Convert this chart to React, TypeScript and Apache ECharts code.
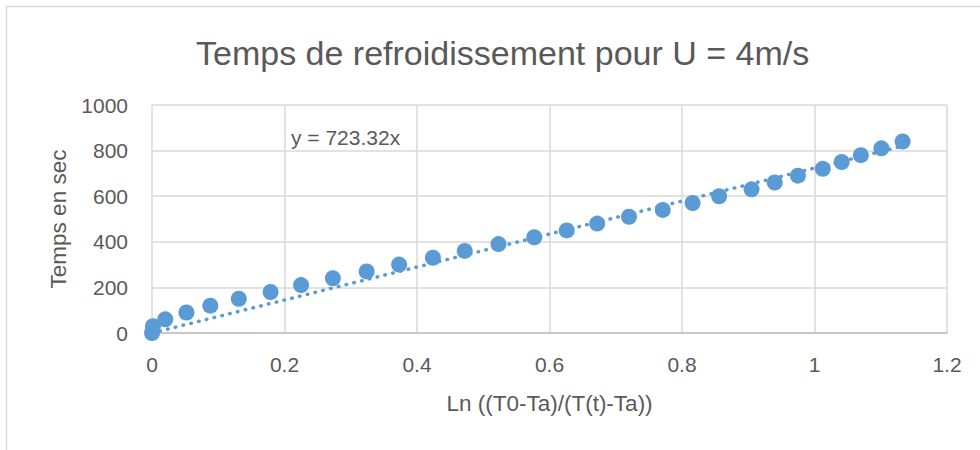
import React, { useEffect, useRef } from "react";
import * as echarts from "echarts";

const TITLE = "Temps de refroidissement pour U = 4m/s";
const X_NAME = "Ln ((T0-Ta)/(T(t)-Ta))";
const Y_NAME = "Temps en sec";
const SLOPE = 723.32;
const EQUATION = "y = 723.32x";

const lnRatio = [
  0, 0.0015, 0.02, 0.052, 0.088, 0.131, 0.179, 0.225, 0.273, 0.324, 0.373,
  0.424, 0.472, 0.523, 0.577, 0.626, 0.672, 0.72, 0.771, 0.816, 0.856, 0.905,
  0.94, 0.975, 1.0125, 1.041, 1.07, 1.101, 1.133,
];
const timeSec = [
  0, 30, 60, 90, 120, 150, 180, 210, 240, 270, 300, 330, 360, 390, 420, 450,
  480, 510, 540, 570, 600, 630, 660, 690, 720, 750, 780, 810, 840,
];

const BLUE = "#5b9bd5";
const TEXT = "#595959";
const FONT = "'Liberation Sans', Arial, sans-serif";

export default function App() {
  const ref = useRef<HTMLDivElement>(null);
  useEffect(() => {
    if (!ref.current) return;
    const chart = echarts.init(ref.current, undefined, { renderer: "svg" });
    const points = lnRatio.map((x, i) => [x, timeSec[i]]);
    const xMax = Math.max(...lnRatio);
    const trend = [
      [0, 0],
      [xMax, SLOPE * xMax],
    ];
    chart.setOption({
      animation: false,
      backgroundColor: "#ffffff",
      textStyle: { fontFamily: FONT },
      title: {
        text: TITLE,
        left: 191,
        top: 31,
        textStyle: { fontFamily: FONT, fontSize: 34, fontWeight: "normal", color: TEXT },
      },
      graphic: [
        {
          type: "rect",
          shape: { x: 6.5, y: 6.5, width: 1000, height: 500 },
          style: { fill: "none", stroke: "#d9d9d9", lineWidth: 1.5 },
          silent: true,
        },
        {
          type: "text",
          left: 291,
          top: 127,
          style: { text: EQUATION, fontFamily: FONT, fontSize: 21, fill: TEXT },
        },
      ],
      grid: { left: 152, top: 105, width: 795, height: 228 },
      xAxis: {
        type: "value",
        min: 0,
        max: 1.2,
        interval: 0.2,
        name: X_NAME,
        nameLocation: "middle",
        nameGap: 59,
        nameTextStyle: { fontFamily: FONT, fontSize: 22.5, color: TEXT },
        axisLine: { show: true, lineStyle: { color: "#bfbfbf", width: 1.5 } },
        axisTick: { show: false },
        axisLabel: {
          margin: 21,
          fontFamily: FONT,
          fontSize: 21,
          color: TEXT,
          formatter: (v: number) => String(Math.round(v * 10) / 10),
        },
        splitLine: { show: true, lineStyle: { color: "#d9d9d9", width: 1.5 } },
      },
      yAxis: {
        type: "value",
        min: 0,
        max: 1000,
        interval: 200,
        name: Y_NAME,
        nameLocation: "middle",
        nameGap: 82,
        nameTextStyle: { fontFamily: FONT, fontSize: 22.5, color: TEXT },
        axisLine: { show: false },
        axisTick: { show: false },
        axisLabel: {
          margin: 24,
          fontFamily: FONT,
          fontSize: 21,
          color: TEXT,
          formatter: (v: number) => String(v),
        },
        splitLine: { show: true, lineStyle: { color: "#d9d9d9", width: 1.5 } },
      },
      series: [
        {
          type: "scatter",
          data: points,
          symbol: "circle",
          symbolSize: 16,
          itemStyle: { color: BLUE, opacity: 1 },
          z: 2,
        },
        {
          type: "line",
          data: trend,
          showSymbol: false,
          symbol: "none",
          lineStyle: { color: BLUE, width: 3.5, type: [0.5, 7.5], cap: "round" },
          z: 3,
        },
      ],
    });
    return () => chart.dispose();
  }, []);
  return (
    <div
      ref={ref}
      style={{ position: "fixed", left: 0, top: 0, width: 980, height: 450, background: "#fff" }}
    />
  );
}
